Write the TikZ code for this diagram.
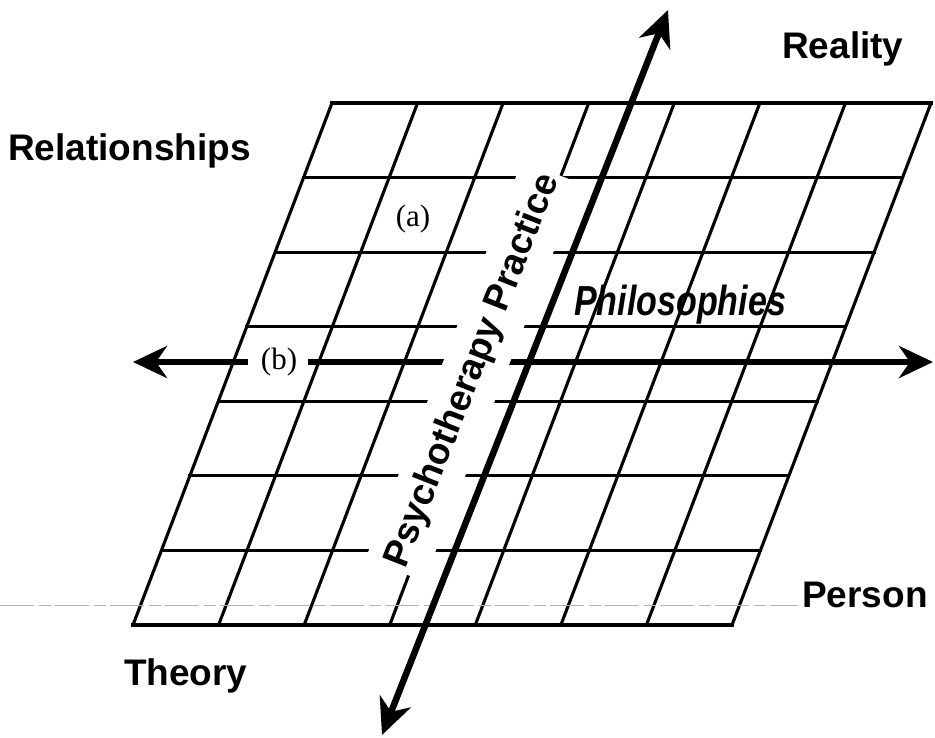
\documentclass[tikz,border=0pt]{standalone}
\usepackage{fontspec}
\setmainfont{Liberation Sans}
\newfontfamily\serifrm{Liberation Serif}
\usetikzlibrary{arrows.meta}
\begin{document}
\begin{tikzpicture}[x=1pt,y=-1pt,
  gridline/.style={line width=3.1pt, line cap=rect},
  axisline/.style={line width=6.5pt},
  headtip/.style={-{Stealth[length=34pt,width=32pt,inset=11pt]}},
  bothtips/.style={{Stealth[length=36pt,width=33pt,inset=11pt]}-{Stealth[length=36pt,width=33pt,inset=11pt]}},
  lab/.style={font=\fontsize{37}{40}\selectfont\bfseries, inner sep=0pt},
  letter/.style={font=\serifrm\fontsize{31}{33}\selectfont, inner sep=0pt},
  scanline/.style={line width=0.7pt, gray!60, dash pattern=on 34pt off 5pt on 12pt off 4pt}
]
\useasboundingbox (0,0) rectangle (935,737);

% grid (sheared parallelogram, 7 x 7 cells)
\foreach \j in {0,...,7}
  \draw[gridline] ({133+28.43*\j},{625-74.57*\j}) -- ({732+28.43*\j},{625-74.57*\j});
\foreach \i in {0,...,7}
  \draw[gridline] ({133+85.57*\i},625) -- ({332+85.57*\i},103);

% faint scan line
\coordinate (sl) at (0,605);
\coordinate (sr) at (798,605);
\draw[scanline] (sl) -- (sr);

% horizontal axis
\coordinate (hl) at (133,362);
\coordinate (hr) at (933,362);
\coordinate (bl) at (248,362);
\coordinate (br) at (308,362);
\draw[axisline,headtip] (bl) -- (hl);
\draw[axisline,headtip] (br) -- (hr);

% rotated label with white band
\node[rotate=68.5, fill=white, inner xsep=4pt, inner ysep=14pt,
      font=\fontsize{37}{40}\selectfont\bfseries] (psy) at (473,371) {Psychotherapy Practice};

% vertical axis
\coordinate (vb) at (382,735);
\coordinate (vt) at (668,10);
\draw[axisline,bothtips] (vb) -- (vt);

% labels
\node[lab, anchor=base west] (rel) at (8,160) {Relationships};
\node[lab, anchor=base west] (real) at (782,58) {Reality};
\node[lab, anchor=base west] (theo) at (124,685) {Theory};
\node[lab, anchor=base west] (pers) at (802,607) {Person};
\node[letter, anchor=base] (a) at (413,226) {(a)};
\node[letter, anchor=base] (b) at (279,369) {(b)};
\node[inner sep=0pt, anchor=base west, font=\fontsize{42}{44}\selectfont\bfseries\itshape] (phil) at (574,315) {\scalebox{0.81}[1]{Philosophies}};
\end{tikzpicture}
\end{document}
